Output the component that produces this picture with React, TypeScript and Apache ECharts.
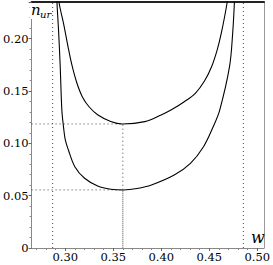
import React, { useEffect, useRef } from "react";
import * as echarts from "echarts";

// Curve with the higher minimum (inner curve)
const innerCurve: [number, number][] = [
  [0.2925, 0.25], [0.2935, 0.235], [0.2986, 0.213], [0.3026, 0.1939], [0.3067, 0.1758],
  [0.3118, 0.1586], [0.3179, 0.1443], [0.325, 0.1347], [0.3341, 0.1271], [0.3474, 0.1209],
  [0.3596, 0.1185], [0.3829, 0.1207], [0.3999, 0.1271], [0.4101, 0.1318], [0.4236, 0.1395],
  [0.4355, 0.1478], [0.445, 0.1595], [0.4524, 0.1732], [0.4582, 0.1891], [0.4626, 0.2054],
  [0.4687, 0.235], [0.4705, 0.25],
];
// Curve with the lower minimum (outer curve)
const outerCurve: [number, number][] = [
  [0.2905, 0.26], [0.2914, 0.235], [0.2932, 0.2054], [0.2948, 0.1732], [0.2965, 0.1318],
  [0.2982, 0.1159], [0.3001, 0.1032], [0.3033, 0.0936], [0.31, 0.0777], [0.3202, 0.0666],
  [0.3338, 0.0592], [0.3474, 0.0561], [0.3606, 0.0554], [0.3748, 0.0568], [0.3898, 0.0602],
  [0.4135, 0.0697], [0.4304, 0.0809], [0.444, 0.0968], [0.4541, 0.1159], [0.4609, 0.1318],
  [0.4711, 0.1732], [0.4744, 0.2054], [0.4762, 0.235], [0.4772, 0.26],
];
const asymptotes = [0.2869, 0.4855];
const minW = 0.36;
const minima = [0.1185, 0.0555];
const xTicks = [0.3, 0.35, 0.4, 0.45, 0.5];
const xMinorTicks = [0.27, 0.28, 0.29, 0.31, 0.32, 0.33, 0.34, 0.36, 0.37, 0.38, 0.39, 0.41, 0.42, 0.43, 0.44, 0.46, 0.47, 0.48, 0.49];
const X_MIN = 0.265;
const X_MAX = 0.507;
const Y_MIN = 0;
const Y_MAX = 0.235;

const SERIF = "DejaVu Serif";

export default function App() {
  const ref = useRef<HTMLDivElement>(null);
  useEffect(() => {
    if (!ref.current) return;
    const chart = echarts.init(ref.current, undefined, { renderer: "svg" });
    const dotted = { color: "#444", width: 1, type: [1, 3] as any };
    const guideSeries: any[] = [];
    asymptotes.forEach((a) => {
      guideSeries.push({
        type: "line", data: [[a, Y_MIN], [a, Y_MAX]], symbol: "none",
        lineStyle: dotted, silent: true, z: 1,
      });
    });
    minima.forEach((m) => {
      guideSeries.push({
        type: "line", data: [[X_MIN, m], [minW, m], [minW, Y_MIN]], symbol: "none",
        lineStyle: dotted, silent: true, z: 1,
      });
    });
    const labelStyle = {
      fontFamily: SERIF, fontSize: 11.5, color: "#000", fontWeight: "normal" as const,
    };
    chart.setOption({
      animation: false,
      textStyle: { fontFamily: SERIF },
      grid: { left: 29, right: 6, top: 2, bottom: 17, containLabel: false },
      xAxis: [
        {
          type: "value", min: X_MIN, max: X_MAX, position: "bottom",
          axisLine: { show: true, lineStyle: { color: "#888", width: 1 } },
          axisTick: { show: true, length: 3, customValues: xTicks, lineStyle: { color: "#666" } },
          axisLabel: {
            customValues: xTicks,
            formatter: (v: number) => v.toFixed(2),
            margin: 3,
            ...labelStyle,
          },
          splitLine: { show: false },
        },
        {
          type: "value", min: X_MIN, max: X_MAX, position: "bottom",
          axisLine: { show: false },
          axisTick: { show: true, length: 2, customValues: xMinorTicks, lineStyle: { color: "#888" } },
          axisLabel: { show: false },
          splitLine: { show: false },
        },
        {
          type: "value", min: X_MIN, max: X_MAX, position: "top",
          axisLine: { show: true, lineStyle: { color: "#222", width: 2 } },
          axisTick: { show: false }, axisLabel: { show: false }, splitLine: { show: false },
        },
      ],
      yAxis: [
        {
          type: "value", min: Y_MIN, max: Y_MAX, interval: 0.05, position: "left",
          axisLine: { show: true, lineStyle: { color: "#888", width: 1 } },
          axisTick: { show: true, length: 3, lineStyle: { color: "#666" } },
          minorTick: { show: true, splitNumber: 5, length: 2, lineStyle: { color: "#888" } },
          axisLabel: {
            formatter: (v: number) => (v === 0 ? "0" : v.toFixed(2)),
            margin: 3,
            showMaxLabel: false,
            ...labelStyle,
          },
          splitLine: { show: false },
        },
        {
          type: "value", min: Y_MIN, max: Y_MAX, position: "right",
          axisLine: { show: true, lineStyle: { color: "#999", width: 1 } },
          axisTick: { show: false }, axisLabel: { show: false }, splitLine: { show: false },
        },
      ],
      series: [
        ...guideSeries,
        {
          type: "line", data: innerCurve, smooth: 0.35, symbol: "none", clip: true,
          lineStyle: { color: "#000", width: 1.1 }, z: 3,
        },
        {
          type: "line", data: outerCurve, smooth: 0.35, symbol: "none", clip: true,
          lineStyle: { color: "#000", width: 1.1 }, z: 3,
        },
      ],
      graphic: [
        { type: "rect", left: 30, top: 3, shape: { width: 20, height: 16 }, style: { fill: "#fff" }, z: 10 },
        { type: "text", left: 31, top: 2, z: 11, style: { text: "n", font: `italic 15px ${SERIF}`, fill: "#000" } },
        { type: "text", left: 40, top: 9, z: 11, style: { text: "ur", font: `italic 10px ${SERIF}`, fill: "#000" } },
        { type: "rect", left: 250, top: 232, shape: { width: 14, height: 14 }, style: { fill: "#fff" }, z: 10 },
        { type: "text", left: 251, top: 229, z: 11, style: { text: "w", font: `italic 16px ${SERIF}`, fill: "#000" } },
      ],
    });
    return () => chart.dispose();
  }, []);
  return (
    <div
      ref={ref}
      style={{ position: "fixed", left: 0, top: 0, width: 273, height: 265, background: "#fff" }}
    />
  );
}
